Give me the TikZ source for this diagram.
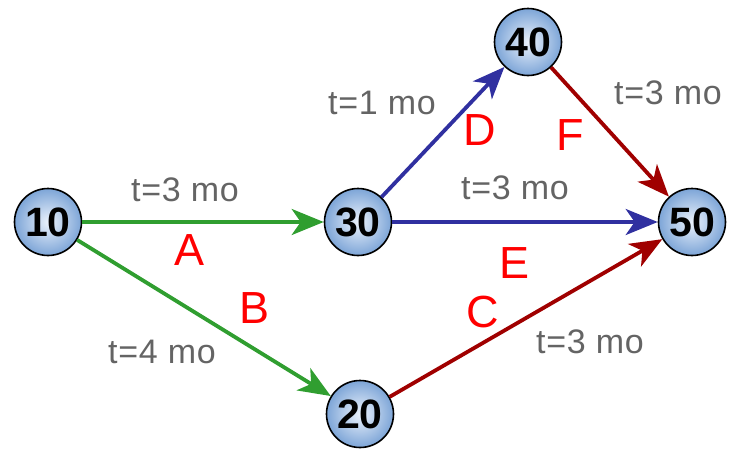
\documentclass[tikz,border=0pt]{standalone}
\usepackage{fontspec}
\setmainfont{Liberation Sans}
\usetikzlibrary{arrows.meta}
\definecolor{egreen}{RGB}{48,158,48}
\definecolor{eblue}{RGB}{48,48,160}
\definecolor{ered}{RGB}{160,0,0}
\definecolor{lgray}{RGB}{100,100,100}
\definecolor{ballout}{RGB}{125,165,215}
\definecolor{ballin}{RGB}{235,242,252}
\tikzset{
  event/.style={circle, draw=black, line width=1.6pt, minimum size=67pt, inner sep=0pt,
    inner color=ballin, outer color=ballout,
    font=\fontsize{41}{41}\selectfont\bfseries},
  act/.style={line width=3.8pt, -{Stealth[length=32pt,width=26pt,inset=9pt]}},
  dur/.style={text=lgray, font=\addfontfeatures{LetterSpace=2}\fontsize{34}{34}\selectfont, inner sep=0pt},
  letter/.style={text=red, font=\fontsize{45}{45}\selectfont, inner sep=0pt}
}
\begin{document}
\begin{tikzpicture}[x=1pt,y=-1pt]
\useasboundingbox (0,0) rectangle (744,466);
\node[event] (n10) at (48,222) {10};
\node[event] (n30) at (358,222) {30};
\node[event] (n50) at (692,222) {50};
\node[event] (n40) at (528,42) {40};
\node[event] (n20) at (360,414) {20};
\draw[act, egreen] (n10) -- (n30);
\draw[act, egreen] (n10) -- (n20);
\draw[act, eblue] (n30) -- (n40);
\draw[act, eblue] (n30) -- (n50);
\draw[act, ered] (n40) -- (n50);
\draw[act, ered] (n20) -- (n50);
\node[dur] (l1) at (185,190) {t=3 mo};
\node[letter] (la) at (190,250) {A};
\node[letter] (lb) at (255,308) {B};
\node[dur] (l2) at (162,352) {t=4 mo};
\node[dur] (l3) at (382,103) {t=1 mo};
\node[letter] (ld) at (480,130) {D};
\node[letter] (lf) at (570,135) {F};
\node[dur] (l4) at (668,93) {t=3 mo};
\node[dur] (l5) at (515,188) {t=3 mo};
\node[letter] (le) at (515,263) {E};
\node[letter] (lc) at (483,312) {C};
\node[dur] (l6) at (590,342) {t=3 mo};
\end{tikzpicture}
\end{document}
